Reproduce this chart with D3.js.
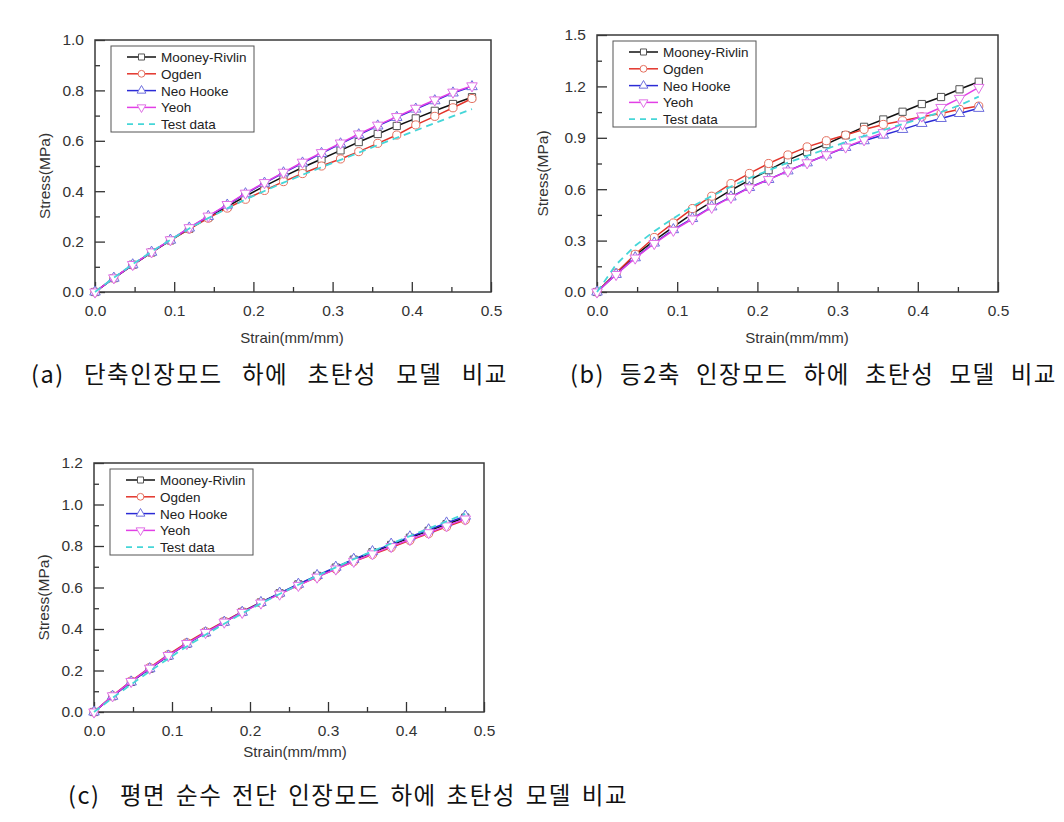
<!DOCTYPE html>
<html>
<head>
<meta charset="utf-8">
<script src="https://cdn.jsdelivr.net/npm/d3@7"></script>
<style>
  body { margin: 0; background: #fff; }
  svg { display: block; }
</style>
</head>
<body>
<script>
// strain points shared by every series (mm/mm)
var strain = [0, 0.0238, 0.0476, 0.0714, 0.0952, 0.119, 0.143, 0.167, 0.190, 0.214, 0.238,
              0.262, 0.286, 0.310, 0.333, 0.357, 0.381, 0.405, 0.429, 0.452, 0.476];
var seriesNames = ['Mooney-Rivlin', 'Ogden', 'Neo Hooke', 'Yeoh', 'Test data'];
var xTicks = [0, 0.1, 0.2, 0.3, 0.4, 0.5];

// (a) uniaxial
var uniMooney = [0, 0.055, 0.108, 0.157, 0.205, 0.251, 0.296, 0.339, 0.380, 0.420, 0.458, 0.494, 0.528, 0.562, 0.595, 0.627, 0.659, 0.689, 0.719, 0.746, 0.773];
var uniOgden  = [0, 0.055, 0.107, 0.157, 0.205, 0.250, 0.293, 0.333, 0.368, 0.403, 0.438, 0.470, 0.500, 0.528, 0.557, 0.590, 0.623, 0.663, 0.697, 0.731, 0.768];
var uniNeo    = [0, 0.055, 0.108, 0.158, 0.206, 0.254, 0.300, 0.345, 0.390, 0.432, 0.473, 0.512, 0.550, 0.588, 0.624, 0.659, 0.693, 0.726, 0.759, 0.790, 0.815];
var uniYeoh   = [0, 0.056, 0.109, 0.159, 0.207, 0.255, 0.301, 0.347, 0.392, 0.434, 0.475, 0.515, 0.553, 0.591, 0.627, 0.662, 0.696, 0.729, 0.762, 0.793, 0.818];
var uniTest   = [0, 0.057, 0.110, 0.160, 0.207, 0.252, 0.293, 0.332, 0.367, 0.401, 0.434, 0.465, 0.495, 0.524, 0.553, 0.583, 0.612, 0.641, 0.670, 0.698, 0.726];
var yTicksA = [0, 0.2, 0.4, 0.6, 0.8, 1.0];

// (b) equibiaxial
var biMooney = [0, 0.110, 0.214, 0.300, 0.380, 0.458, 0.526, 0.594, 0.653, 0.711, 0.770, 0.818, 0.863, 0.915, 0.964, 1.007, 1.052, 1.097, 1.138, 1.183, 1.227];
var biOgden  = [0, 0.111, 0.220, 0.318, 0.403, 0.487, 0.559, 0.633, 0.692, 0.750, 0.800, 0.847, 0.883, 0.916, 0.949, 0.978, 1.000, 1.023, 1.042, 1.066, 1.085];
var biNeo    = [0, 0.103, 0.200, 0.286, 0.364, 0.429, 0.497, 0.555, 0.610, 0.657, 0.707, 0.754, 0.800, 0.844, 0.883, 0.916, 0.949, 0.984, 1.013, 1.042, 1.072];
var biYeoh   = [0, 0.102, 0.198, 0.283, 0.360, 0.426, 0.494, 0.552, 0.608, 0.656, 0.706, 0.754, 0.801, 0.846, 0.888, 0.930, 0.980, 1.027, 1.077, 1.130, 1.194];
var biTest   = [0, 0.160, 0.270, 0.355, 0.430, 0.500, 0.560, 0.615, 0.665, 0.710, 0.755, 0.795, 0.835, 0.875, 0.910, 0.945, 0.980, 1.015, 1.050, 1.090, 1.140];
var yTicksB = [0, 0.3, 0.6, 0.9, 1.2, 1.5];

// (c) planar shear
var shMooney = [0, 0.076, 0.145, 0.209, 0.271, 0.329, 0.383, 0.434, 0.482, 0.528, 0.572, 0.615, 0.656, 0.696, 0.734, 0.770, 0.805, 0.840, 0.873, 0.905, 0.937];
var shOgden  = [0, 0.079, 0.149, 0.214, 0.276, 0.334, 0.387, 0.437, 0.483, 0.528, 0.570, 0.611, 0.651, 0.689, 0.725, 0.759, 0.793, 0.827, 0.860, 0.893, 0.925];
var shNeo    = [0, 0.076, 0.145, 0.209, 0.270, 0.328, 0.382, 0.433, 0.481, 0.528, 0.573, 0.616, 0.658, 0.698, 0.736, 0.773, 0.809, 0.844, 0.878, 0.911, 0.944];
var shYeoh   = [0, 0.078, 0.147, 0.211, 0.272, 0.330, 0.383, 0.433, 0.480, 0.525, 0.568, 0.610, 0.650, 0.689, 0.726, 0.762, 0.797, 0.831, 0.864, 0.897, 0.930];
var shTest   = [0, 0.068, 0.133, 0.196, 0.257, 0.316, 0.372, 0.425, 0.475, 0.523, 0.569, 0.613, 0.656, 0.697, 0.737, 0.775, 0.812, 0.848, 0.884, 0.919, 0.955];
var yTicksC = [0, 0.2, 0.4, 0.6, 0.8, 1.0, 1.2];

var captions = ['(a) 단축인장모드 하에 초탄성 모델 비교',
                '(b) 등2축 인장모드 하에 초탄성 모델 비교',
                '(c)  평면 순수 전단 인장모드 하에 초탄성 모델 비교'];

var lineColors   = ['#111111', '#e3342b', '#2b2bd6', '#e23fe6', '#45d6d8'];
var markerColors = ['#555555', '#e5705f', '#6e6edd', '#e070e6', null];
var symbols = [d3.symbolSquare, d3.symbolCircle, d3.symbolTriangle, d3.symbolTriangle, null];
var symbolSizes = [52, 52, 48, 48, 0];
var symbolRot = [0, 0, 0, 180, 0];

var svg = d3.select('body').append('svg').attr('width', 1064).attr('height', 822);
var font = 'Arial, "Liberation Sans", sans-serif';

function drawChart(cfg) {
    var x = d3.scaleLinear().domain([0, 0.5]).range([cfg.left, cfg.right]);
    var y = d3.scaleLinear().domain([0, cfg.yMax]).range([cfg.bottom, cfg.top]);
    var g = svg.append('g');

    var yStep = cfg.yTicks[1] - cfg.yTicks[0];
    var yMinor = cfg.yTicks.slice(0, -1).map(function(v){ return v + yStep/2; });
    var xMinor = xTicks.slice(0, -1).map(function(v){ return v + 0.05; });

    // minor ticks
    g.append('g').attr('transform', 'translate(0,' + cfg.bottom + ')')
        .call(d3.axisBottom(x).tickValues(xMinor).tickSize(-5).tickFormat(''))
        .call(function(a){ a.select('.domain').remove(); });
    g.append('g').attr('transform', 'translate(' + cfg.left + ',0)')
        .call(d3.axisLeft(y).tickValues(yMinor).tickSize(-5).tickFormat(''))
        .call(function(a){ a.select('.domain').remove(); });

    // major ticks + labels
    var xa = g.append('g').attr('transform', 'translate(0,' + cfg.bottom + ')')
        .call(d3.axisBottom(x).tickValues(xTicks).tickSize(-10).tickPadding(13).tickFormat(d3.format('.1f')));
    var ya = g.append('g').attr('transform', 'translate(' + cfg.left + ',0)')
        .call(d3.axisLeft(y).tickValues(cfg.yTicks).tickSize(-10).tickPadding(11).tickFormat(d3.format('.1f')));
    [xa, ya].forEach(function(a){
        a.select('.domain').remove();
        a.selectAll('text').attr('font-family', font).attr('font-size', 15.5).attr('fill', '#333');
    });
    g.selectAll('.tick line').attr('stroke', '#333').attr('stroke-width', 1.3);

    // frame
    g.append('rect').attr('x', cfg.left).attr('y', cfg.top)
        .attr('width', cfg.right - cfg.left).attr('height', cfg.bottom - cfg.top)
        .attr('fill', 'none').attr('stroke', '#3a3a3a').attr('stroke-width', 1.5);

    // axis titles
    g.append('text').attr('x', cfg.xLabelX).attr('y', cfg.xLabelY)
        .attr('text-anchor', 'middle').attr('font-family', font).attr('font-size', 15)
        .attr('fill', '#333').text('Strain(mm/mm)');
    g.append('text').attr('transform', 'translate(' + cfg.yLabelX + ',' + ((cfg.top + cfg.bottom)/2 + 10) + ') rotate(-90)')
        .attr('text-anchor', 'middle').attr('font-family', font).attr('font-size', 15.5)
        .attr('fill', '#333').text('Stress(MPa)');

    // series
    var line = d3.line()
        .x(function(d, i){ return x(strain[i]); })
        .y(function(d){ return y(d); });

    cfg.series.forEach(function(vals, k){
        g.append('path').attr('d', line(vals)).attr('fill', 'none')
            .attr('stroke', lineColors[k]).attr('stroke-width', k === 4 ? 1.8 : 1.5)
            .attr('stroke-dasharray', k === 4 ? '7,5' : null);
        if (symbols[k]) {
            g.selectAll('path.m' + k).data(vals).enter().append('path')
                .attr('class', 'm' + k)
                .attr('d', d3.symbol().type(symbols[k]).size(symbolSizes[k]))
                .attr('transform', function(d, i){ return 'translate(' + x(strain[i]) + ',' + y(d) + ') rotate(' + symbolRot[k] + ')'; })
                .attr('fill', '#fff').attr('stroke', markerColors[k]).attr('stroke-width', 1);
        }
    });

    // legend
    var lx = cfg.left + 16, ly = cfg.top + 6;
    var lg = g.append('g').attr('transform', 'translate(' + lx + ',' + ly + ')');
    lg.append('rect').attr('width', 143).attr('height', 86)
        .attr('fill', '#fff').attr('stroke', '#555').attr('stroke-width', 1);
    seriesNames.forEach(function(name, k){
        var ry = 11 + k * 16.8;
        lg.append('line').attr('x1', 16).attr('x2', 45).attr('y1', ry).attr('y2', ry)
            .attr('stroke', lineColors[k]).attr('stroke-width', k === 4 ? 1.8 : 1.5)
            .attr('stroke-dasharray', k === 4 ? '6,5' : null);
        if (symbols[k]) {
            lg.append('path').attr('d', d3.symbol().type(symbols[k]).size(symbolSizes[k] * 0.7))
                .attr('transform', 'translate(30.5,' + ry + ') rotate(' + symbolRot[k] + ')')
                .attr('fill', '#fff').attr('stroke', markerColors[k]).attr('stroke-width', 1);
        }
        lg.append('text').attr('x', 50).attr('y', ry + 5).attr('font-family', font)
            .attr('font-size', 13.5).attr('fill', '#222').text(name);
    });
}

drawChart({left: 95, right: 491, top: 40, bottom: 292, yMax: 1.0, yTicks: yTicksA,
           xLabelX: 292, xLabelY: 343, yLabelX: 50, series: [uniMooney, uniOgden, uniNeo, uniYeoh, uniTest]});
drawChart({left: 597, right: 998, top: 35, bottom: 292, yMax: 1.5, yTicks: yTicksB,
           xLabelX: 797, xLabelY: 343, yLabelX: 548, series: [biMooney, biOgden, biNeo, biYeoh, biTest]});
drawChart({left: 94, right: 484, top: 463, bottom: 712, yMax: 1.2, yTicks: yTicksC,
           xLabelX: 295, xLabelY: 757, yLabelX: 49, series: [shMooney, shOgden, shNeo, shYeoh, shTest]});

// captions: natural glyph spacing, gaps between words stretched to the span
var capPos = [{x: 31, y: 383, w: 477}, {x: 570, y: 383, w: 487}, {x: 68, y: 804, w: 560}];
captions.forEach(function(c, i){
    var t = svg.append('text').attr('x', capPos[i].x).attr('y', capPos[i].y)
        .attr('font-family', '"Noto Sans CJK KR", sans-serif').attr('font-size', 23.5)
        .attr('letter-spacing', 1.5).attr('fill', '#111')
        .attr('xml:space', 'preserve').style('white-space', 'pre').text(c);
    var natural = t.node().getComputedTextLength();
    var gaps = c.split(' ').length - 1;
    t.attr('word-spacing', Math.max(0, (capPos[i].w - natural) / gaps));
});
</script>
</body>
</html>
